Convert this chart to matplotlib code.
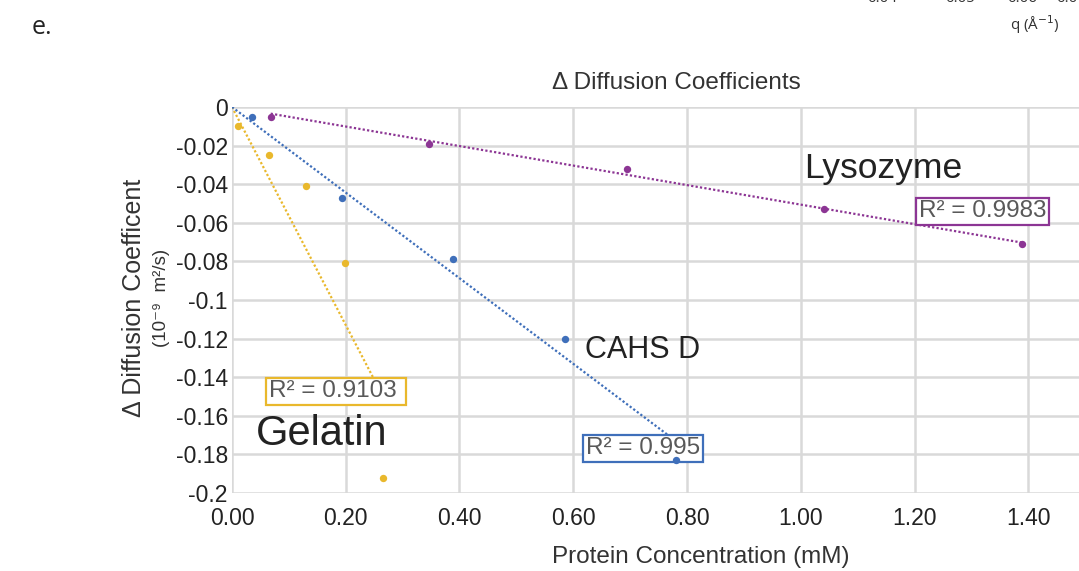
import numpy as np
import matplotlib
matplotlib.use('Agg')
import matplotlib.pyplot as plt

plt.rcParams['font.family'] = ['Liberation Sans', 'DejaVu Sans']
plt.rcParams['axes.unicode_minus'] = False

# Data (Protein concentration mM, delta D 1e-9 m2/s)
gel_x = [0.011, 0.065, 0.131, 0.198, 0.265]
gel_y = [-0.0098, -0.0249, -0.041, -0.0807, -0.192]
cahs_x = [0.036, 0.193, 0.389, 0.585, 0.780]
cahs_y = [-0.0052, -0.047, -0.0789, -0.120, -0.183]
lys_x = [0.068, 0.346, 0.694, 1.041, 1.389]
lys_y = [-0.0053, -0.0193, -0.0323, -0.0528, -0.071]

r2_labels = ['R² = 0.9103 ', 'R² = 0.995', 'R² = 0.9983']
names = ['Gelatin', 'CAHS D', 'Lysozyme']

x_ticks = [0.0, 0.2, 0.4, 0.6, 0.8, 1.0, 1.2, 1.4, 1.6]
y_ticks = [0, -0.02, -0.04, -0.06, -0.08, -0.1, -0.12, -0.14, -0.16, -0.18, -0.2]

gold = '#e9b82c'
blue = '#3f6fba'
purple = '#8c3594'


def origin_slope(x, y):
    x = np.asarray(x)
    y = np.asarray(y)
    return np.sum(x * y) / np.sum(x * x)


fig = plt.figure(figsize=(10.79, 5.71), dpi=100)
ax = fig.add_axes([0.215, 0.1366, 0.8434, 0.676])

# trendlines (zero intercept)
for xs, ys, col, x0 in [(gel_x, gel_y, gold, 0.0),
                        (cahs_x, cahs_y, blue, 0.0),
                        (lys_x, lys_y, purple, min(lys_x))]:
    k = origin_slope(xs, ys)
    xl = np.array([x0, max(xs)])
    ax.plot(xl, k * xl, color=col, lw=1.6, linestyle=(0, (1, 1)), zorder=2)

# R^2 boxes (white fill hides trendline ends)
box_pos = [(0.1827, -0.1474), (0.722, -0.1769), (1.320, -0.0541)]
for lab, (bx, by), col in zip(r2_labels, box_pos, [gold, blue, purple]):
    ax.text(bx, by, lab, ha='center', va='center', fontsize=17.5, color='#595959',
            bbox=dict(boxstyle='square,pad=0.12', fc='white', ec=col, lw=1.6),
            zorder=3)

ax.scatter(gel_x, gel_y, s=28, color=gold, zorder=4, linewidths=0)
ax.scatter(cahs_x, cahs_y, s=28, color=blue, zorder=4, linewidths=0)
ax.scatter(lys_x, lys_y, s=28, color=purple, zorder=4, linewidths=0)

ax.text(0.042, -0.1751, names[0], fontsize=30, color='#222222', va='baseline')
ax.text(0.620, -0.130, names[1], fontsize=22, color='#222222', va='baseline')
ax.text(1.0065, -0.0368, names[2], fontsize=25.5, color='#222222', va='baseline')

ax.set_xlim(0, 1.6)
ax.set_ylim(-0.2, 0)
ax.set_xticks(x_ticks)
ax.set_xticklabels(['%.2f' % v if v < 1.5 else '' for v in x_ticks])
ax.set_yticks(y_ticks)
ax.set_yticklabels(['%g' % v for v in y_ticks])
ax.tick_params(length=0, labelsize=16.5, colors='#222222')
ax.tick_params(axis='x', pad=10)
ax.tick_params(axis='y', pad=3)
ax.grid(True, color='#d9d9d9', lw=1.8)
ax.set_axisbelow(True)
for s in ax.spines.values():
    s.set_visible(False)

ax.set_xlabel('Protein Concentration (mM)', fontsize=17.5, color='#333333')
ax.xaxis.set_label_coords((701 - 232) / 910.0, -(557 - 493) / 386.0)
ax.xaxis.label.set_va('center')

fig.text(676 / 1079, 1 - 83 / 571, 'Δ Diffusion Coefficients', fontsize=17.5,
         color='#333333', ha='center', va='center')
fig.text(134 / 1079, 1 - 298 / 571, 'Δ Diffusion Coefficent', fontsize=18,
         color='#333333', rotation=90, ha='center', va='center')
fig.text(161 / 1079, 1 - 298 / 571, '(10⁻⁹  m²/s)', fontsize=13.5,
         color='#333333', rotation=90, ha='center', va='center')

# panel letter and leftovers of the neighbouring panel above
fig.text(42 / 1079, 1 - 28 / 571, 'e.', fontsize=18, family=['Open Sans', 'DejaVu Sans'],
         color='#222222', ha='center', va='center')
q_ticks = ['0.04', '0.05', '0.06', '0.07']
q_pos = [882, 960, 1022, 1071]
for lab, px in zip(q_ticks, q_pos):
    fig.text(px / 1079, 1 + 1 / 571, lab, fontsize=11, family=['Open Sans', 'DejaVu Sans'],
             color='#333333', ha='center', va='center')
fig.text(1035 / 1079, 1 - 25 / 571, 'q (Å$^{-1}$)', fontsize=11,
         family=['Open Sans', 'DejaVu Sans'], color='#333333', ha='center', va='center')

fig.savefig('out.png', dpi=100)
